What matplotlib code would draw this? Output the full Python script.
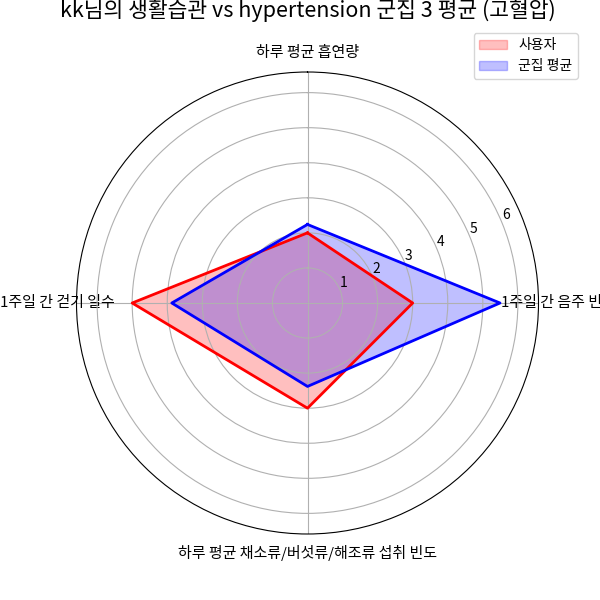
import numpy as np
import matplotlib.pyplot as plt

plt.rcParams['font.family'] = ['Noto Sans CJK KR', 'DejaVu Sans']
plt.rcParams['axes.unicode_minus'] = False

labels = ['하루 평균 흡연량', '1주일 간 음주 빈도', '하루 평균 채소류/버섯류/해조류 섭취 빈도', '1주일 간 걷기 일수']
user_values = [2.0, 3.0, 3.0, 5.0]
cluster_values = [2.24, 5.49, 2.38, 3.87]

user_name = 'kk'
disease = 'hypertension'
cluster_id = 3
disease_kr = '고혈압'


def close_loop(values):
    return list(values) + [values[0]]


angles = np.linspace(0, 2 * np.pi, len(labels), endpoint=False).tolist()
angles_closed = close_loop(angles)

fig, ax = plt.subplots(figsize=(6, 6), subplot_kw=dict(polar=True))
ax.set_theta_offset(np.pi / 2)
ax.set_theta_direction(-1)
ax.set_rlabel_position(67.5)

ax.fill(angles_closed, close_loop(user_values), color='red', alpha=0.25, label='사용자')
ax.plot(angles_closed, close_loop(user_values), color='red', linewidth=2)
ax.fill(angles_closed, close_loop(cluster_values), color='blue', alpha=0.25, label='군집 평균')
ax.plot(angles_closed, close_loop(cluster_values), color='blue', linewidth=2)

ax.set_xticks(angles)
ax.set_xticklabels(labels, fontsize=10.8)
ax.set_ylim(0, max(max(user_values), max(cluster_values)) * 1.2)

ax.set_title(f'{user_name}님의 생활습관 vs {disease} 군집 {cluster_id} 평균 ({disease_kr})', fontsize=15.5, y=1.1)
ax.legend(loc='upper right', bbox_to_anchor=(1.1, 1.1))

fig.savefig('out.png', dpi=100)
